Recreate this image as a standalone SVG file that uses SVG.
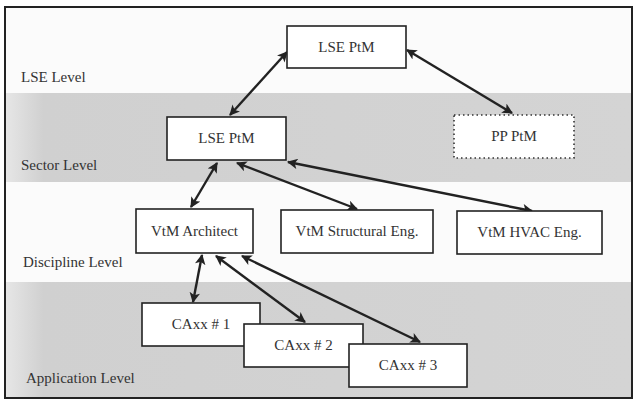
<svg xmlns="http://www.w3.org/2000/svg" width="637" height="404" viewBox="0 0 637 404">
<style>
.band{fill:#d3d3d3}
.box{fill:#ffffff;stroke:#222;stroke-width:1.6}
.dot{fill:#ffffff;stroke:#333;stroke-width:1.6;stroke-dasharray:1.5 3}
.t{font-family:"Liberation Serif","Times New Roman",serif;font-size:15px;fill:#333}
.c{text-anchor:middle}
.ln{stroke:#222;stroke-width:2.4;fill:none;marker-start:url(#ah);marker-end:url(#ah)}
</style>
<defs>
<marker id="ah" viewBox="0 0 10 10" refX="9" refY="5" markerWidth="5" markerHeight="4.4" orient="auto-start-reverse" markerUnits="strokeWidth">
<path d="M0,0 L10,5 L0,10 L2.5,5 z" fill="#222"/>
</marker>
<linearGradient id="g" x1="0" x2="1" y1="0" y2="0">
<stop offset="0" stop-color="#e6e6e6"/>
<stop offset="0.06" stop-color="#d0d0d0"/>
<stop offset="1" stop-color="#d4d4d4"/>
</linearGradient>
</defs>
<rect x="0" y="0" width="637" height="404" fill="#ffffff"/>
<rect x="5" y="7" width="627" height="391" fill="#fbfbfb"/>
<rect class="band" x="6" y="93" width="625" height="89" fill="url(#g)" style="fill:url(#g)"/>
<rect class="band" x="6" y="282" width="625" height="115" style="fill:url(#g)"/>
<rect x="5" y="7" width="627" height="391" fill="none" stroke="#222" stroke-width="2"/>
<g id="levels">
<text class="t" x="21" y="82">LSE Level</text>
<text class="t" x="21" y="170">Sector Level</text>
<text class="t" x="23" y="267">Discipline Level</text>
<text class="t" x="26" y="383">Application Level</text>
</g>
<g id="connectors">
<line class="ln" x1="287" y1="52" x2="230" y2="115"/>
<line class="ln" x1="407" y1="50" x2="512" y2="113"/>
<line class="ln" x1="217" y1="163" x2="191" y2="207"/>
<line class="ln" x1="237" y1="163" x2="357" y2="209"/>
<line class="ln" x1="288" y1="162" x2="532" y2="211"/>
<line class="ln" x1="202" y1="255" x2="193" y2="302"/>
<line class="ln" x1="216" y1="256" x2="305" y2="322"/>
<line class="ln" x1="242" y1="256" x2="420" y2="342"/>
</g>
<g id="lse-ptm-top"><rect class="box" x="287" y="26" width="119" height="42"/><text class="t c" x="346.5" y="52">LSE PtM</text></g>
<g id="lse-ptm-sector"><rect class="box" x="167" y="117" width="119" height="43"/><text class="t c" x="226.5" y="143">LSE PtM</text></g>
<g id="pp-ptm"><rect class="dot" x="454" y="115" width="120" height="43"/><text class="t c" x="514" y="141">PP PtM</text></g>
<g id="vtm-architect"><rect class="box" x="136" y="209" width="117" height="44"/><text class="t c" x="194.5" y="236">VtM Architect</text></g>
<g id="vtm-structural"><rect class="box" x="281" y="210" width="152" height="43"/><text class="t c" x="357" y="236">VtM Structural Eng.</text></g>
<g id="vtm-hvac"><rect class="box" x="457" y="211" width="145" height="43"/><text class="t c" x="529.5" y="237">VtM HVAC Eng.</text></g>
<g id="caxx1"><rect class="box" x="142" y="303" width="118" height="43"/><text class="t c" x="201" y="329">CAxx # 1</text></g>
<g id="caxx2"><rect class="box" x="244" y="324" width="119" height="43"/><text class="t c" x="303.5" y="350">CAxx # 2</text></g>
<g id="caxx3"><rect class="box" x="349" y="344" width="118" height="43"/><text class="t c" x="408" y="370">CAxx # 3</text></g>
</svg>
